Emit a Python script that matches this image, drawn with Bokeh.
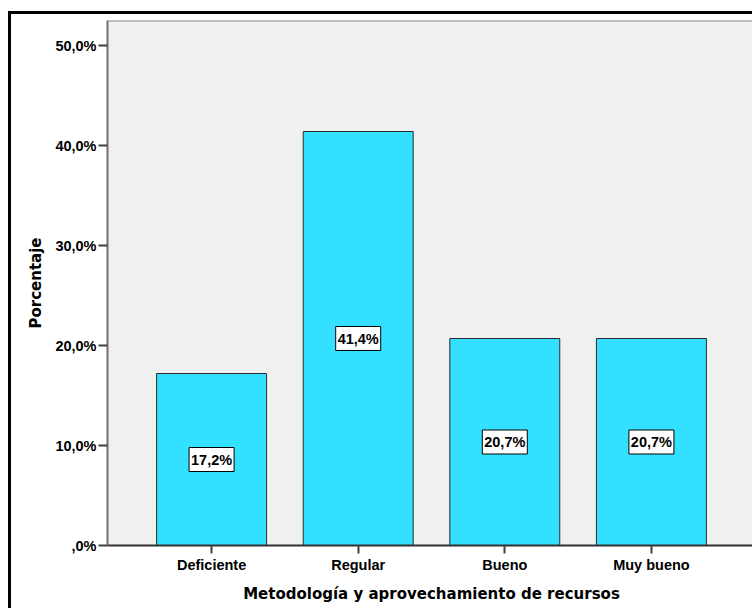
from bokeh.plotting import figure
from bokeh.models import FactorRange, Range1d, ColumnDataSource, FixedTicker, Span
from bokeh.core.properties import value
from bokeh.embed import file_html
from bokeh.resources import INLINE

# ---- data ----
categories = ["Deficiente", "Regular", "Bueno", "Muy bueno"]
percentages = [17.2, 41.4, 20.7, 20.7]
bar_labels = ["17,2%", "41,4%", "20,7%", "20,7%"]
y_ticks = [0, 10, 20, 30, 40, 50]
y_tick_labels = [",0%", "10,0%", "20,0%", "30,0%", "40,0%", "50,0%"]
y_max = 52.5
x_title = "Metodología y aprovechamiento de recursos"
y_title = "Porcentaje"

source = ColumnDataSource(dict(
    cat=categories,
    pct=percentages,
    mid=[v / 2 for v in percentages],
    lab=bar_labels,
))

p = figure(
    x_range=FactorRange(*categories, range_padding=0.21, range_padding_units="absolute"),
    y_range=Range1d(0, y_max),
    width=744, height=597,
    output_backend="svg", toolbar_location=None,
    min_border_left=96, min_border_top=6, min_border_bottom=66, min_border_right=0,
    background_fill_color="#F0F0F0", border_fill_color="white",
    styles={"border-left": "3px solid black", "border-top": "3px solid black",
            "margin-top": "11px", "margin-left": "8px"},
)

p.vbar(x="cat", top="pct", width=0.75, source=source,
       fill_color="#33E0FF", line_color="#2b2b2b", line_width=1)

# value labels in white boxes
p.rect(x="cat", y="mid", width=45, height=24, width_units="screen",
       height_units="screen", source=source,
       fill_color="white", line_color="black", line_width=1)
p.text(x="cat", y="mid", text="lab", source=source,
       text_align="center", text_baseline="middle",
       text_font=value("Liberation Sans"), text_font_style="bold",
       text_font_size="14.5px", text_color="black")

p.xgrid.grid_line_color = None
p.ygrid.grid_line_color = None
p.outline_line_color = None
p.add_layout(Span(location=y_max, dimension="width", line_color="#888888", line_width=2))

# y axis
p.yaxis.ticker = FixedTicker(ticks=y_ticks)
p.yaxis.major_label_overrides = {t: l for t, l in zip(y_ticks, y_tick_labels)}
p.yaxis.axis_label = y_title
p.yaxis.axis_line_color = "#707070"
p.yaxis.axis_line_width = 2
p.yaxis.major_tick_line_color = "#404040"
p.yaxis.major_tick_line_width = 2
p.yaxis.major_tick_out = 9
p.yaxis.major_tick_in = 0
p.yaxis.minor_tick_line_color = None
p.yaxis.major_label_standoff = 2
p.yaxis.axis_label_standoff = 7

# x axis
p.xaxis.axis_label = x_title
p.xaxis.axis_line_color = "#303030"
p.xaxis.axis_line_width = 2
p.xaxis.major_tick_line_color = "#404040"
p.xaxis.major_tick_line_width = 2
p.xaxis.major_tick_out = 8
p.xaxis.major_tick_in = 0
p.xaxis.major_label_standoff = 3
p.xaxis.axis_label_standoff = 9

for ax in (p.xaxis, p.yaxis):
    ax.major_label_text_font = "Liberation Sans"
    ax.major_label_text_font_style = "bold"
    ax.major_label_text_font_size = "14.5px"
    ax.major_label_text_color = "black"
    ax.axis_label_text_font = "DejaVu Sans"
    ax.axis_label_text_font_style = "bold"
    ax.axis_label_text_font_size = "15px"
    ax.axis_label_text_color = "black"

open("out.html", "w").write(file_html(p, INLINE))
